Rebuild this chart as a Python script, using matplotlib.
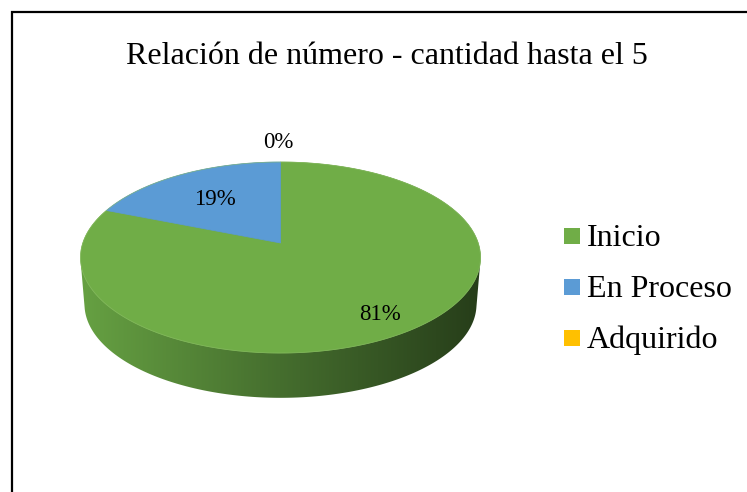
import numpy as np
import matplotlib
matplotlib.use("Agg")
import matplotlib.pyplot as plt
from matplotlib.patches import Polygon, Rectangle

# ---- data ----
title = "Relación de número - cantidad hasta el 5"
categories = ["Inicio", "En Proceso", "Adquirido"]
values = [81, 19, 0]
colors = ["#70AD47", "#5B9BD5", "#FFC000"]

W, H = 747, 492
fig = plt.figure(figsize=(W / 100, H / 100), dpi=100)
ax = fig.add_axes([0, 0, 1, 1])
ax.set_xlim(0, W)
ax.set_ylim(H, 0)
ax.axis("off")

FONT = "Liberation Serif"

# ---- projection of the tilted pie (perspective homography) ----
cx, cy = 280.5, 243.0
k = 0.152
sy = 93.3
sx = 200.0 / (1.0 / np.sqrt(1 - k ** 2))


def proj(u, v, scale=1.0, cyy=cy):
    d = 1 + k * v
    return cx + scale * sx * u / d, cyy - scale * sy * v / d


total = float(sum(values))
fracs = [v / total for v in values]

# side (cylinder wall) -> convex hull of top and bottom rims, gradient filled
t = np.linspace(0, 2 * np.pi, 720)
tx, ty = proj(np.cos(t), np.sin(t))
bx, by = proj(np.cos(t), np.sin(t), scale=0.98, cyy=290.0)
pts = np.vstack([np.column_stack([tx, ty]), np.column_stack([bx, by])])


def hull(points):
    p = sorted(map(tuple, points))
    def cross(o, a, b):
        return (a[0] - o[0]) * (b[1] - o[1]) - (a[1] - o[1]) * (b[0] - o[0])
    lower, upper = [], []
    for q in p:
        while len(lower) >= 2 and cross(lower[-2], lower[-1], q) <= 0:
            lower.pop()
        lower.append(q)
    for q in reversed(p):
        while len(upper) >= 2 and cross(upper[-2], upper[-1], q) <= 0:
            upper.pop()
        upper.append(q)
    return np.array(lower[:-1] + upper[:-1])


hp = hull(pts)
side_poly = Polygon(hp, closed=True, facecolor="none", edgecolor="none")
ax.add_patch(side_poly)
xs = np.linspace(0, 1, 400)
c0 = np.array([0.40, 0.63, 0.26])
c1 = np.array([0.27, 0.43, 0.18])
c2 = np.array([0.15, 0.24, 0.10])
grad = np.where(xs[:, None] < 0.5,
                c0 + (c1 - c0) * (xs[:, None] / 0.5),
                c1 + (c2 - c1) * ((xs[:, None] - 0.5) / 0.5))
img = ax.imshow(grad[None, :, :], extent=(hp[:, 0].min(), hp[:, 0].max(), hp[:, 1].max(), hp[:, 1].min()),
                aspect="auto", zorder=1, interpolation="bilinear")
img.set_clip_path(side_poly)

# top face wedges (start at 12 o'clock, clockwise)
start = 0.0
label_pos = []
for frac, col in zip(fracs, colors):
    end = start + frac * 360.0
    mid = (start + end) / 2
    if frac > 0:
        ang = np.radians(90 - np.linspace(start, end, 200))
        u = np.concatenate([[0], np.cos(ang), [0]])
        v = np.concatenate([[0], np.sin(ang), [0]])
        px, py = proj(u, v)
        ax.add_patch(Polygon(np.column_stack([px, py]), closed=True,
                             facecolor=col, edgecolor=col, lw=0.5, zorder=2))
    r = 0.82 if frac > 0.5 else (0.62 if frac > 0.05 else 1.3)
    a = np.radians(90 - mid)
    label_pos.append(proj(r * np.cos(a), r * np.sin(a)))
    start = end

# rim highlight
ax.plot(tx, ty, color="#8fc06a", lw=0.6, zorder=3, alpha=0.6)

for (lx, ly), val in zip(label_pos, values):
    pct = f"{round(val / total * 100):.0f}%"
    ax.text(lx - 2, ly + 1, pct, ha="center", va="center", fontsize=16.5,
            family=FONT, color="black", zorder=4)

# title
ax.text(387, 57, title, ha="center", va="center", fontsize=23, family=FONT, color="black")

# legend
ly0, dy = 235.5, 51
for i, (cat, col) in enumerate(zip(categories, colors)):
    yy = ly0 + i * dy
    ax.add_patch(Rectangle((564, yy - 8), 16, 16, facecolor=col, edgecolor="none"))
    ax.text(587, yy + 10.5, cat, ha="left", va="baseline", fontsize=23, family=FONT, color="black")

# frame (left and top edges visible)
ax.plot([11.5, 11.5, W], [H, 11.5, 11.5], color="black", lw=1.6, solid_joinstyle="miter")

ax.set_xlim(0, W)
ax.set_ylim(H, 0)
fig.savefig("out.png", dpi=100)
